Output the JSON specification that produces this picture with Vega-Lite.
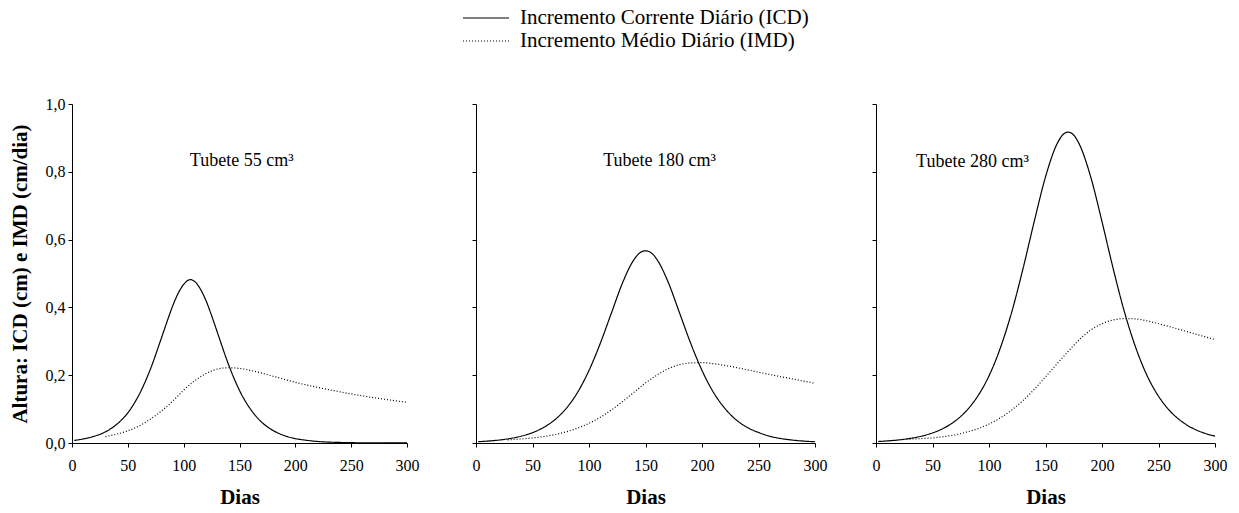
{
  "$schema": "https://vega.github.io/schema/vega-lite/v6.json",
  "background": "white",
  "padding": {"left": 9, "top": 7, "right": 0, "bottom": 0},
  "config": {
    "font": "Liberation Serif, Times New Roman, serif",
    "view": {"stroke": null},
    "text": {"font": "Liberation Serif, Times New Roman, serif"},
    "axis": {
      "grid": false, "domainColor": "black", "tickColor": "black", "labelColor": "black", "titleColor": "black",
      "labelFont": "Liberation Serif, Times New Roman, serif", "titleFont": "Liberation Serif, Times New Roman, serif", "labelFontSize": 16, "titleFontSize": 21,
      "titleFontWeight": "bold", "tickSize": 4, "domainWidth": 1, "tickWidth": 1, "labelFlush": false, "labelOverlap": false
    },
    "legend": {"labelFont": "Liberation Serif, Times New Roman, serif", "labelColor": "black"}
  },
  "datasets": {
    "curves": [
      {"p":1,"s":"ICD","d":2,"v":0.0075},{"p":1,"s":"ICD","d":10,"v":0.012},{"p":1,"s":"ICD","d":20,"v":0.020},{"p":1,"s":"ICD","d":30,"v":0.033},
      {"p":1,"s":"ICD","d":40,"v":0.055},{"p":1,"s":"ICD","d":50,"v":0.089},{"p":1,"s":"ICD","d":60,"v":0.142},{"p":1,"s":"ICD","d":70,"v":0.216},
      {"p":1,"s":"ICD","d":80,"v":0.309},{"p":1,"s":"ICD","d":85,"v":0.357},{"p":1,"s":"ICD","d":90,"v":0.403},{"p":1,"s":"ICD","d":95,"v":0.441},
      {"p":1,"s":"ICD","d":100,"v":0.468},{"p":1,"s":"ICD","d":106,"v":0.482},{"p":1,"s":"ICD","d":110,"v":0.476},{"p":1,"s":"ICD","d":115,"v":0.454},
      {"p":1,"s":"ICD","d":120,"v":0.420},{"p":1,"s":"ICD","d":125,"v":0.376},{"p":1,"s":"ICD","d":130,"v":0.328},{"p":1,"s":"ICD","d":140,"v":0.233},
      {"p":1,"s":"ICD","d":150,"v":0.155},{"p":1,"s":"ICD","d":160,"v":0.099},{"p":1,"s":"ICD","d":170,"v":0.061},{"p":1,"s":"ICD","d":180,"v":0.037},
      {"p":1,"s":"ICD","d":190,"v":0.022},{"p":1,"s":"ICD","d":200,"v":0.013},{"p":1,"s":"ICD","d":210,"v":0.008},{"p":1,"s":"ICD","d":220,"v":0.0045},
      {"p":1,"s":"ICD","d":240,"v":0.0016},{"p":1,"s":"ICD","d":260,"v":0.0006},{"p":1,"s":"ICD","d":280,"v":0.0002},{"p":1,"s":"ICD","d":300,"v":0.0001},
      {"p":1,"s":"IMD","d":30,"v":0.019},{"p":1,"s":"IMD","d":40,"v":0.026},{"p":1,"s":"IMD","d":50,"v":0.036},{"p":1,"s":"IMD","d":60,"v":0.050},
      {"p":1,"s":"IMD","d":70,"v":0.070},{"p":1,"s":"IMD","d":80,"v":0.094},{"p":1,"s":"IMD","d":90,"v":0.123},{"p":1,"s":"IMD","d":100,"v":0.156},
      {"p":1,"s":"IMD","d":110,"v":0.184},{"p":1,"s":"IMD","d":120,"v":0.205},{"p":1,"s":"IMD","d":130,"v":0.218},{"p":1,"s":"IMD","d":140,"v":0.222},
      {"p":1,"s":"IMD","d":150,"v":0.220},{"p":1,"s":"IMD","d":160,"v":0.214},{"p":1,"s":"IMD","d":170,"v":0.206},{"p":1,"s":"IMD","d":180,"v":0.197},
      {"p":1,"s":"IMD","d":200,"v":0.179},{"p":1,"s":"IMD","d":220,"v":0.164},{"p":1,"s":"IMD","d":240,"v":0.151},{"p":1,"s":"IMD","d":260,"v":0.139},
      {"p":1,"s":"IMD","d":280,"v":0.129},{"p":1,"s":"IMD","d":300,"v":0.120},

      {"p":2,"s":"ICD","d":2,"v":0.004},{"p":2,"s":"ICD","d":10,"v":0.0056},{"p":2,"s":"ICD","d":20,"v":0.0086},{"p":2,"s":"ICD","d":30,"v":0.0132},
      {"p":2,"s":"ICD","d":40,"v":0.0201},{"p":2,"s":"ICD","d":50,"v":0.0305},{"p":2,"s":"ICD","d":60,"v":0.0463},{"p":2,"s":"ICD","d":70,"v":0.0692},
      {"p":2,"s":"ICD","d":80,"v":0.1027},{"p":2,"s":"ICD","d":90,"v":0.150},{"p":2,"s":"ICD","d":100,"v":0.214},{"p":2,"s":"ICD","d":110,"v":0.294},
      {"p":2,"s":"ICD","d":120,"v":0.385},{"p":2,"s":"ICD","d":130,"v":0.475},{"p":2,"s":"ICD","d":140,"v":0.542},{"p":2,"s":"ICD","d":145,"v":0.561},
      {"p":2,"s":"ICD","d":150,"v":0.567},{"p":2,"s":"ICD","d":155,"v":0.561},{"p":2,"s":"ICD","d":160,"v":0.542},{"p":2,"s":"ICD","d":170,"v":0.475},
      {"p":2,"s":"ICD","d":180,"v":0.385},{"p":2,"s":"ICD","d":190,"v":0.294},{"p":2,"s":"ICD","d":200,"v":0.214},{"p":2,"s":"ICD","d":210,"v":0.150},
      {"p":2,"s":"ICD","d":220,"v":0.103},{"p":2,"s":"ICD","d":230,"v":0.069},{"p":2,"s":"ICD","d":240,"v":0.046},{"p":2,"s":"ICD","d":250,"v":0.031},
      {"p":2,"s":"ICD","d":260,"v":0.020},{"p":2,"s":"ICD","d":270,"v":0.013},{"p":2,"s":"ICD","d":280,"v":0.0086},{"p":2,"s":"ICD","d":290,"v":0.0056},
      {"p":2,"s":"ICD","d":300,"v":0.0037},
      {"p":2,"s":"IMD","d":28,"v":0.009},{"p":2,"s":"IMD","d":40,"v":0.012},{"p":2,"s":"IMD","d":50,"v":0.015},{"p":2,"s":"IMD","d":60,"v":0.019},
      {"p":2,"s":"IMD","d":70,"v":0.025},{"p":2,"s":"IMD","d":80,"v":0.033},{"p":2,"s":"IMD","d":90,"v":0.044},{"p":2,"s":"IMD","d":100,"v":0.058},
      {"p":2,"s":"IMD","d":110,"v":0.076},{"p":2,"s":"IMD","d":120,"v":0.098},{"p":2,"s":"IMD","d":130,"v":0.123},{"p":2,"s":"IMD","d":140,"v":0.150},
      {"p":2,"s":"IMD","d":150,"v":0.177},{"p":2,"s":"IMD","d":160,"v":0.200},{"p":2,"s":"IMD","d":170,"v":0.219},{"p":2,"s":"IMD","d":180,"v":0.231},
      {"p":2,"s":"IMD","d":190,"v":0.236},{"p":2,"s":"IMD","d":200,"v":0.237},{"p":2,"s":"IMD","d":210,"v":0.234},{"p":2,"s":"IMD","d":220,"v":0.229},
      {"p":2,"s":"IMD","d":240,"v":0.216},{"p":2,"s":"IMD","d":260,"v":0.202},{"p":2,"s":"IMD","d":280,"v":0.189},{"p":2,"s":"IMD","d":300,"v":0.176},

      {"p":3,"s":"ICD","d":2,"v":0.0045},{"p":3,"s":"ICD","d":10,"v":0.0061},{"p":3,"s":"ICD","d":20,"v":0.0090},{"p":3,"s":"ICD","d":30,"v":0.0135},
      {"p":3,"s":"ICD","d":40,"v":0.0200},{"p":3,"s":"ICD","d":50,"v":0.0297},{"p":3,"s":"ICD","d":60,"v":0.0439},{"p":3,"s":"ICD","d":70,"v":0.0648},
      {"p":3,"s":"ICD","d":80,"v":0.095},{"p":3,"s":"ICD","d":90,"v":0.138},{"p":3,"s":"ICD","d":100,"v":0.198},{"p":3,"s":"ICD","d":110,"v":0.280},
      {"p":3,"s":"ICD","d":120,"v":0.385},{"p":3,"s":"ICD","d":130,"v":0.513},{"p":3,"s":"ICD","d":140,"v":0.653},{"p":3,"s":"ICD","d":150,"v":0.785},
      {"p":3,"s":"ICD","d":160,"v":0.881},{"p":3,"s":"ICD","d":165,"v":0.908},{"p":3,"s":"ICD","d":170,"v":0.917},{"p":3,"s":"ICD","d":175,"v":0.908},
      {"p":3,"s":"ICD","d":180,"v":0.881},{"p":3,"s":"ICD","d":190,"v":0.785},{"p":3,"s":"ICD","d":200,"v":0.653},{"p":3,"s":"ICD","d":210,"v":0.513},
      {"p":3,"s":"ICD","d":220,"v":0.385},{"p":3,"s":"ICD","d":230,"v":0.280},{"p":3,"s":"ICD","d":240,"v":0.198},{"p":3,"s":"ICD","d":250,"v":0.138},
      {"p":3,"s":"ICD","d":260,"v":0.095},{"p":3,"s":"ICD","d":270,"v":0.0648},{"p":3,"s":"ICD","d":280,"v":0.0439},{"p":3,"s":"ICD","d":290,"v":0.0297},
      {"p":3,"s":"ICD","d":300,"v":0.0200},
      {"p":3,"s":"IMD","d":27,"v":0.011},{"p":3,"s":"IMD","d":40,"v":0.013},{"p":3,"s":"IMD","d":50,"v":0.015},{"p":3,"s":"IMD","d":60,"v":0.019},
      {"p":3,"s":"IMD","d":70,"v":0.024},{"p":3,"s":"IMD","d":80,"v":0.032},{"p":3,"s":"IMD","d":90,"v":0.042},{"p":3,"s":"IMD","d":100,"v":0.056},
      {"p":3,"s":"IMD","d":110,"v":0.074},{"p":3,"s":"IMD","d":120,"v":0.097},{"p":3,"s":"IMD","d":130,"v":0.125},{"p":3,"s":"IMD","d":140,"v":0.158},
      {"p":3,"s":"IMD","d":150,"v":0.195},{"p":3,"s":"IMD","d":160,"v":0.233},{"p":3,"s":"IMD","d":170,"v":0.270},{"p":3,"s":"IMD","d":180,"v":0.305},
      {"p":3,"s":"IMD","d":190,"v":0.333},{"p":3,"s":"IMD","d":200,"v":0.352},{"p":3,"s":"IMD","d":210,"v":0.363},{"p":3,"s":"IMD","d":220,"v":0.367},
      {"p":3,"s":"IMD","d":230,"v":0.366},{"p":3,"s":"IMD","d":240,"v":0.360},{"p":3,"s":"IMD","d":260,"v":0.343},{"p":3,"s":"IMD","d":280,"v":0.324},
      {"p":3,"s":"IMD","d":300,"v":0.305}
    ]
  },
  "bounds": "flush",
  "spacing": 69,
  "hconcat": [
    {
      "width": 335, "height": 339,
      "layer": [
        {
          "data": {"name": "curves"},
          "transform": [{"filter": "datum.p == 1"}],
          "mark": {"type": "line", "color": "black", "strokeWidth": 1.2, "interpolate": "monotone"},
          "encoding": {
            "x": {"field": "d", "type": "quantitative", "scale": {"domain": [0, 300], "nice": false},
                  "axis": {"values": [0,50,100,150,200,250,300], "title": "Dias", "labelPadding": 10, "titlePadding": 13}},
            "y": {"field": "v", "type": "quantitative", "scale": {"domain": [0, 1], "nice": false},
                  "axis": {"values": [0,0.2,0.4,0.6,0.8,1], "labelExpr": "replace(format(datum.value,'.1f'),'.',',')",
                           "title": "Altura: ICD (cm) e IMD (cm/dia)", "titlePadding": 15, "labelPadding": 3}},
            "strokeDash": {"field": "s", "type": "nominal",
                           "scale": {"domain": ["ICD", "IMD"], "range": [[1, 0], [1, 2]]},
                           "legend": {"title": null, "orient": "none", "legendX": 403, "legendY": -97,
                                      "symbolType": "M-2.3,0H2.3", "symbolSize": 400, "symbolStrokeWidth": 1.2, "symbolStrokeColor": "black",
                                      "labelFontSize": 21, "labelOffset": 23, "labelLimit": 0, "rowPadding": 2,
                                      "labelExpr": "datum.label == 'ICD' ? 'Incremento Corrente Diário (ICD)' : 'Incremento Médio Diário (IMD)'"}}
          }
        },
        {
          "data": {"values": [{"label": "Tubete 55 cm³"}]},
          "mark": {"type": "text", "fontSize": 18, "align": "left", "baseline": "alphabetic", "color": "black"},
          "encoding": {"x": {"datum": 105.5}, "y": {"datum": 0.817}, "text": {"field": "label"}}
        }
      ]
    },
    {
      "bounds": "flush",
      "spacing": 61,
      "hconcat": [
        {
          "width": 339, "height": 339,
          "layer": [
            {
              "data": {"name": "curves"},
              "transform": [{"filter": "datum.p == 2"}],
              "mark": {"type": "line", "color": "black", "strokeWidth": 1.2, "interpolate": "monotone"},
              "encoding": {
                "x": {"field": "d", "type": "quantitative", "scale": {"domain": [0, 300], "nice": false},
                      "axis": {"values": [0,50,100,150,200,250,300], "title": "Dias", "labelPadding": 10, "titlePadding": 13}},
                "y": {"field": "v", "type": "quantitative", "scale": {"domain": [0, 1], "nice": false},
                      "axis": {"values": [0,0.2,0.4,0.6,0.8,1], "labels": false, "title": null}},
                "strokeDash": {"field": "s", "type": "nominal",
                               "scale": {"domain": ["ICD", "IMD"], "range": [[1, 0], [1, 2]]},
                               "legend": {"title": null, "orient": "none", "legendX": 403, "legendY": -97,
                                          "symbolType": "M-2.3,0H2.3", "symbolSize": 400, "symbolStrokeWidth": 1.2, "symbolStrokeColor": "black",
                                          "labelFontSize": 21, "labelOffset": 23, "labelLimit": 0, "rowPadding": 2,
                                          "labelExpr": "datum.label == 'ICD' ? 'Incremento Corrente Diário (ICD)' : 'Incremento Médio Diário (IMD)'"}}
              }
            },
            {
              "data": {"values": [{"label": "Tubete 180 cm³"}]},
              "mark": {"type": "text", "fontSize": 18, "align": "left", "baseline": "alphabetic", "color": "black"},
              "encoding": {"x": {"datum": 112.5}, "y": {"datum": 0.817}, "text": {"field": "label"}}
            }
          ]
        },
        {
          "width": 339, "height": 339,
          "layer": [
            {
              "data": {"name": "curves"},
              "transform": [{"filter": "datum.p == 3"}],
              "mark": {"type": "line", "color": "black", "strokeWidth": 1.2, "interpolate": "monotone"},
              "encoding": {
                "x": {"field": "d", "type": "quantitative", "scale": {"domain": [0, 300], "nice": false},
                      "axis": {"values": [0,50,100,150,200,250,300], "title": "Dias", "labelPadding": 10, "titlePadding": 13}},
                "y": {"field": "v", "type": "quantitative", "scale": {"domain": [0, 1], "nice": false},
                      "axis": {"values": [0,0.2,0.4,0.6,0.8,1], "labels": false, "title": null}},
                "strokeDash": {"field": "s", "type": "nominal",
                               "scale": {"domain": ["ICD", "IMD"], "range": [[1, 0], [1, 2]]},
                               "legend": {"title": null, "orient": "none", "legendX": 403, "legendY": -97,
                                          "symbolType": "M-2.3,0H2.3", "symbolSize": 400, "symbolStrokeWidth": 1.2, "symbolStrokeColor": "black",
                                          "labelFontSize": 21, "labelOffset": 23, "labelLimit": 0, "rowPadding": 2,
                                          "labelExpr": "datum.label == 'ICD' ? 'Incremento Corrente Diário (ICD)' : 'Incremento Médio Diário (IMD)'"}}
              }
            },
            {
              "data": {"values": [{"label": "Tubete 280 cm³"}]},
              "mark": {"type": "text", "fontSize": 18, "align": "left", "baseline": "alphabetic", "color": "black"},
              "encoding": {"x": {"datum": 35.5}, "y": {"datum": 0.814}, "text": {"field": "label"}}
            }
          ]
        }
      ]
    }
  ]
}
